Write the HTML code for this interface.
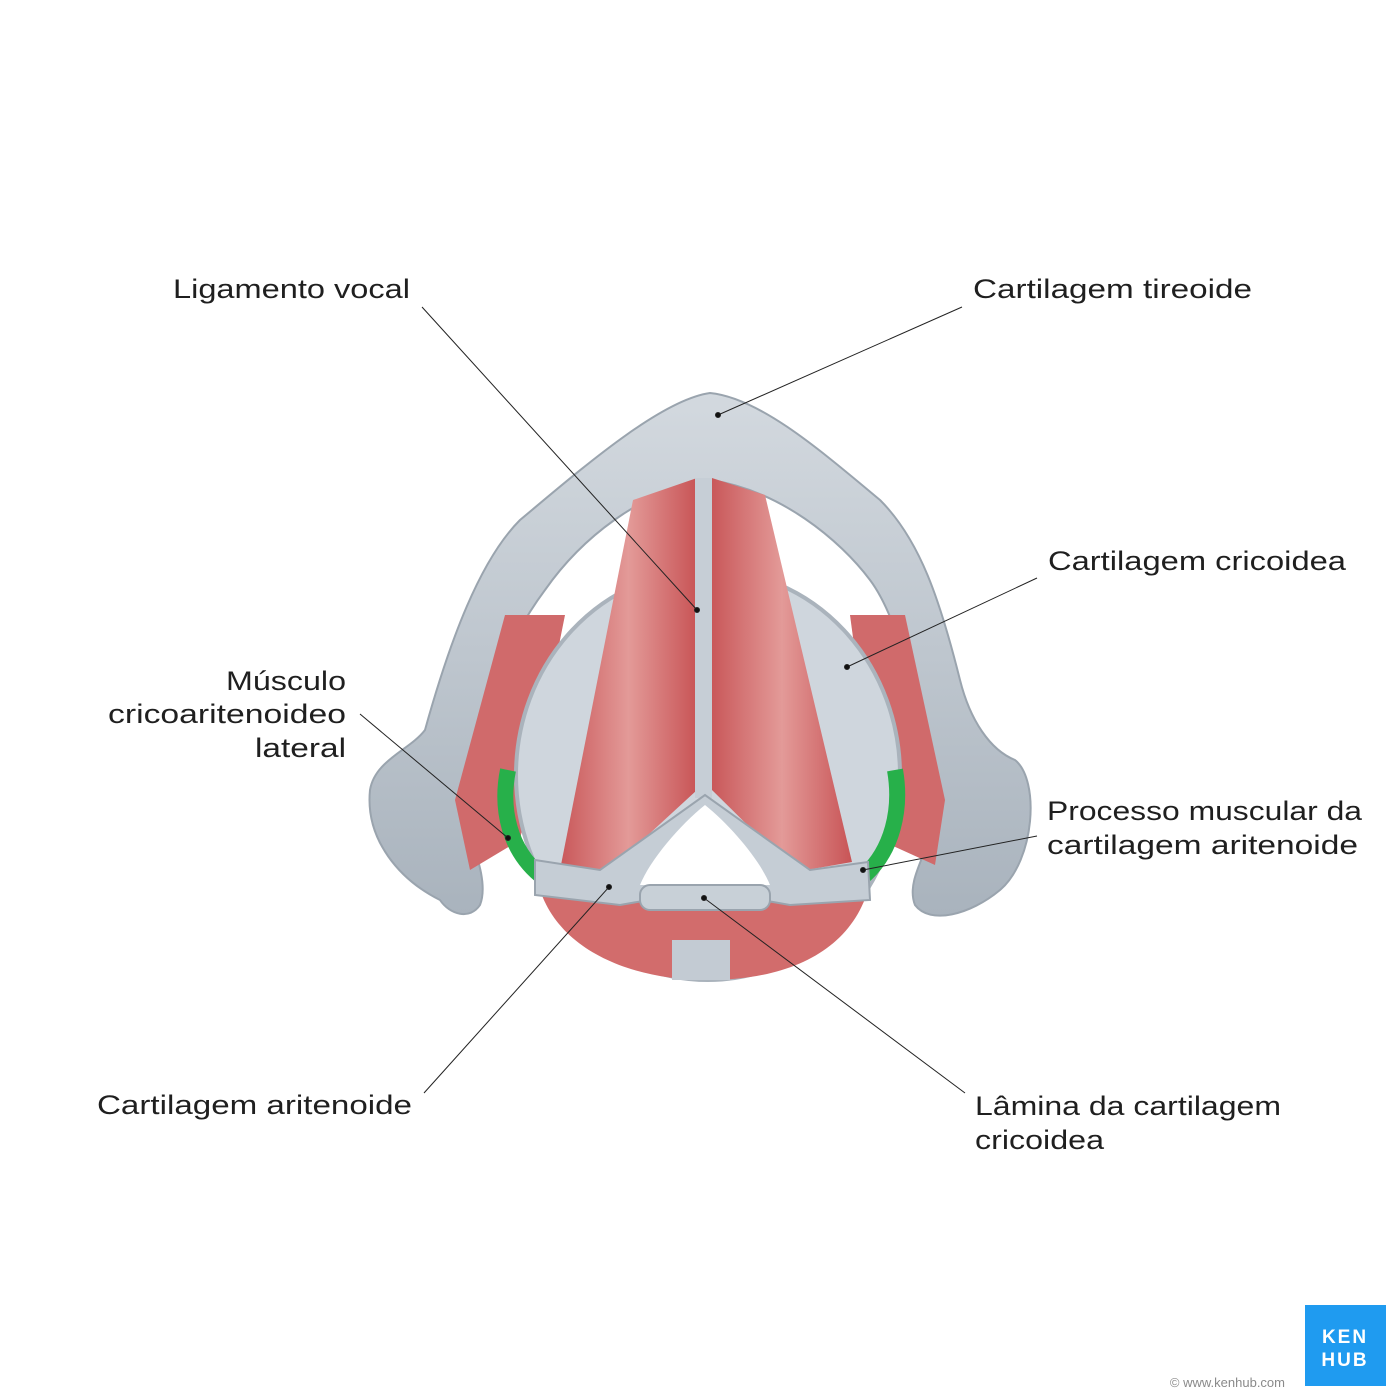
<!DOCTYPE html>
<html><head><meta charset="utf-8"><style>
html,body{margin:0;padding:0;background:#fff}
svg{display:block}
text{font-family:"Liberation Sans",sans-serif;font-size:27px;fill:#1f1f1f}
</style></head><body>
<svg width="1400" height="1400" viewBox="0 0 1400 1400" xmlns="http://www.w3.org/2000/svg">
<defs>
<linearGradient id="g1" x1="0" y1="0" x2="0" y2="1"><stop offset="0" stop-color="#d3d9df"/><stop offset="1" stop-color="#a9b3bd"/></linearGradient>
<linearGradient id="r1" x1="0" y1="0" x2="1" y2="0"><stop offset="0" stop-color="#c9585a"/><stop offset="0.5" stop-color="#e39a98"/><stop offset="1" stop-color="#c85456"/></linearGradient>
</defs>
<path d="M440,900 C400,880 365,840 370,790 C375,760 410,750 425,730 C450,640 480,560 520,520 C580,470 660,400 710,393 C760,398 820,450 880,500 C920,540 940,600 960,680 C970,720 990,750 1015,760 C1040,780 1035,860 1000,890 C970,915 930,925 915,905 C905,880 930,850 935,820 C925,720 900,620 870,580 C840,540 780,490 710,480 C640,490 580,540 545,590 C500,650 470,740 460,800 C470,840 490,880 480,905 C470,920 450,915 440,900 Z" fill="url(#g1)" stroke="#9aa4ae" stroke-width="2"/>
<path d="M505,615 L565,615 L520,840 L470,870 L455,800 Z" fill="#d06a6b"/>
<path d="M850,615 L905,615 L945,800 L935,865 L880,840 Z" fill="#d06a6b"/>
<ellipse cx="708" cy="775" rx="192" ry="205" fill="#cfd6dd" stroke="#aab3bc" stroke-width="4"/>
<path d="M508,770 C500,810 510,850 540,875" fill="none" stroke="#27b04a" stroke-width="16"/>
<path d="M895,770 C902,810 892,850 865,875" fill="none" stroke="#27b04a" stroke-width="16"/>
<path d="M540,890 C560,950 630,980 708,980 C790,980 850,950 868,890 Z" fill="#d26c6c"/>
<rect x="672" y="940" width="58" height="40" fill="#c3cbd3"/>
<path d="M633,500 L697,478 L697,790 L610,870 L560,870 Z" fill="url(#r1)"/>
<path d="M712,478 L765,495 L852,862 L795,872 L712,790 Z" fill="url(#r1)"/>
<rect x="695" y="478" width="17" height="320" fill="#c6ced6"/>
<path d="M535,860 L600,870 L705,795 L810,870 L868,862 L870,900 L790,905 L705,890 L620,905 L535,895 Z" fill="#c5cdd5" stroke="#9aa4ae" stroke-width="2"/>
<path d="M705,805 C680,825 650,860 640,885 L770,885 C760,860 730,825 705,805 Z" fill="#fff"/>
<rect x="640" y="885" width="130" height="25" rx="10" fill="#c8d0d7" stroke="#9aa4ae" stroke-width="2"/>
<g stroke="#222" stroke-width="1" fill="#111">
<line x1="422" y1="307" x2="697" y2="610"/><circle cx="697" cy="610" r="2.5"/>
<line x1="962" y1="307" x2="718" y2="415"/><circle cx="718" cy="415" r="2.5"/>
<line x1="1037" y1="578" x2="847" y2="667"/><circle cx="847" cy="667" r="2.5"/>
<line x1="360" y1="714" x2="508" y2="838"/><circle cx="508" cy="838" r="2.5"/>
<line x1="1037" y1="836" x2="863" y2="870"/><circle cx="863" cy="870" r="2.5"/>
<line x1="424" y1="1093" x2="609" y2="887"/><circle cx="609" cy="887" r="2.5"/>
<line x1="965" y1="1093" x2="704" y2="898"/><circle cx="704" cy="898" r="2.5"/>
</g>
<g>
<text x="173" y="298" textLength="237" lengthAdjust="spacingAndGlyphs">Ligamento vocal</text>
<text x="973" y="298" textLength="279" lengthAdjust="spacingAndGlyphs">Cartilagem tireoide</text>
<text x="1048" y="570" textLength="298" lengthAdjust="spacingAndGlyphs">Cartilagem cricoidea</text>
<text x="226" y="690" textLength="120" lengthAdjust="spacingAndGlyphs">Músculo</text>
<text x="108" y="723" textLength="238" lengthAdjust="spacingAndGlyphs">cricoaritenoideo</text>
<text x="255" y="757" textLength="91" lengthAdjust="spacingAndGlyphs">lateral</text>
<text x="1047" y="820" textLength="315" lengthAdjust="spacingAndGlyphs">Processo muscular da</text>
<text x="1047" y="854" textLength="311" lengthAdjust="spacingAndGlyphs">cartilagem aritenoide</text>
<text x="97" y="1114" textLength="315" lengthAdjust="spacingAndGlyphs">Cartilagem aritenoide</text>
<text x="975" y="1115" textLength="306" lengthAdjust="spacingAndGlyphs">Lâmina da cartilagem</text>
<text x="975" y="1149" textLength="129" lengthAdjust="spacingAndGlyphs">cricoidea</text>
</g>
<rect x="1305" y="1305" width="81" height="81" fill="#1f9bf0"/>
<text x="1345" y="1343" text-anchor="middle" style="font-size:19px;font-weight:bold;fill:#fff;letter-spacing:2px">KEN</text>
<text x="1345" y="1366" text-anchor="middle" style="font-size:19px;font-weight:bold;fill:#fff;letter-spacing:2px">HUB</text>
<text x="1285" y="1387" text-anchor="end" style="font-size:13px;fill:#8a8a8a">© www.kenhub.com</text>
</svg>
</body></html>
